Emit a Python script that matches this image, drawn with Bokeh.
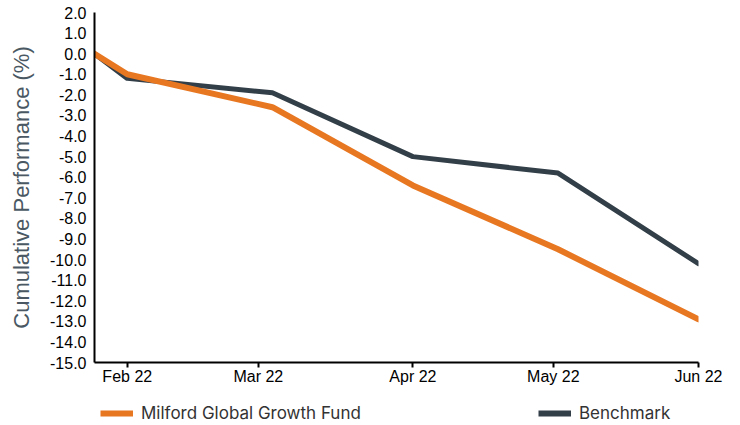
import pandas as pd
from bokeh.plotting import figure
from bokeh.models import Range1d, FixedTicker, Legend, LegendItem
from bokeh.layouts import column
from bokeh.embed import file_html
from bokeh.resources import INLINE

# ---- data ----
dates = ["2022-02-21", "2022-02-28", "2022-03-31", "2022-04-30", "2022-05-31", "2022-06-30"]
fund = [0.0, -1.0, -2.6, -6.4, -9.5, -12.9]
benchmark = [0.0, -1.2, -1.9, -5.0, -5.8, -10.2]
tick_dates = ["2022-02-28", "2022-03-28", "2022-04-30", "2022-05-30", "2022-06-30"]
tick_labels = ["Feb 22", "Mar 22", "Apr 22", "May 22", "Jun 22"]
y_ticks = list(range(-15, 3))
series_names = ["Milford Global Growth Fund", "Benchmark"]

t0 = pd.Timestamp(dates[0])
x = [(pd.Timestamp(d) - t0).days for d in dates]
xt = [(pd.Timestamp(d) - t0).days for d in tick_dates]

FUND_C = "#e87722"
BENCH_C = "#333f48"

p = figure(width=740, height=392, output_backend="svg", toolbar_location=None,
           x_range=Range1d(0, x[-1]), y_range=Range1d(-15, 2),
           min_border_left=94, min_border_right=42, min_border_top=12, min_border_bottom=30)
p.outline_line_color = None
p.xgrid.visible = False
p.ygrid.visible = False
p.background_fill_color = "white"
p.border_fill_color = "white"

rb = p.line(x, benchmark, line_color=BENCH_C, line_width=5, line_join="round", line_cap="round")
rf = p.line(x, fund, line_color=FUND_C, line_width=6, line_join="round", line_cap="round")

# axes
p.xaxis.ticker = FixedTicker(ticks=xt)
p.xaxis.major_label_overrides = {t: l for t, l in zip(xt, tick_labels)}
p.xaxis.minor_tick_line_color = None
p.xaxis.major_tick_out = 5
p.xaxis.major_tick_in = 0
p.xaxis.major_tick_line_width = 2
p.xaxis.major_tick_line_color = "black"
p.xaxis.axis_line_width = 2
p.xaxis.axis_line_color = "black"
p.xaxis.major_label_text_font = "Liberation Sans"
p.xaxis.major_label_text_font_size = "16px"
p.xaxis.major_label_text_color = "black"
p.xaxis.major_label_standoff = 0

p.yaxis.ticker = FixedTicker(ticks=y_ticks)
p.yaxis.major_label_overrides = {t: f"{t:.1f}" for t in y_ticks}
p.yaxis.minor_tick_line_color = None
p.yaxis.major_tick_line_color = None
p.yaxis.major_tick_out = 0
p.yaxis.major_tick_in = 0
p.yaxis.axis_line_width = 2
p.yaxis.axis_line_color = "black"
p.yaxis.major_label_text_font = "Liberation Sans"
p.yaxis.major_label_text_font_size = "16px"
p.yaxis.major_label_text_color = "black"
p.yaxis.major_label_standoff = 8
p.yaxis.axis_label = "Cumulative Performance (%)"
p.yaxis.axis_label_text_font = "Liberation Sans"
p.yaxis.axis_label_text_font_style = "normal"
p.yaxis.axis_label_text_font_size = "22px"
p.yaxis.axis_label_text_color = "#4a5863"
p.yaxis.axis_label_standoff = 13

# ---- legend strip (separate figure, series drawn outside its visible range) ----
lg = figure(width=740, height=33, output_backend="svg", toolbar_location=None,
            x_range=Range1d(0, x[-1]), y_range=Range1d(1000, 1001),
            x_axis_type=None, y_axis_type=None,
            min_border_left=0, min_border_right=0, min_border_top=0, min_border_bottom=0)
lg.outline_line_color = None
lg.xgrid.visible = False
lg.ygrid.visible = False
lf = lg.line(x, fund, line_color=FUND_C, line_width=6)
lb = lg.line(x, benchmark, line_color=BENCH_C, line_width=6)

legend = Legend(items=[LegendItem(label=series_names[0], renderers=[lf]),
                       LegendItem(label=series_names[1], renderers=[lb])],
                orientation="horizontal", location=(6, 2),
                glyph_width=33, glyph_height=16, label_standoff=8, spacing=0,
                label_width=397,
                padding=0, margin=0, border_line_color=None, background_fill_alpha=0,
                label_text_font="Inter", label_text_font_size="17px",
                label_text_color="#333333")
lg.add_layout(legend, "center")

layout = column(p, lg, spacing=0)
open("out.html", "w").write(file_html(layout, INLINE))
